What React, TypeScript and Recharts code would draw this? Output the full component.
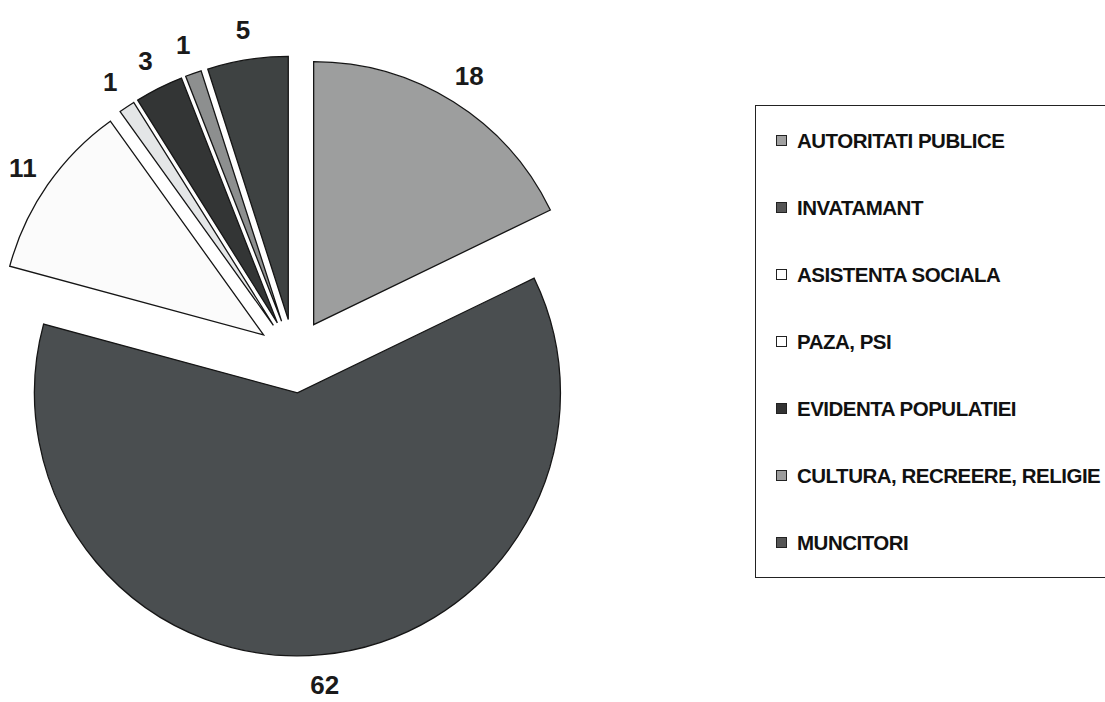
import React from 'react';
import { PieChart, Pie, Cell, Legend, Sector } from 'recharts';

const categories = [
  'AUTORITATI PUBLICE',
  'INVATAMANT',
  'ASISTENTA SOCIALA',
  'PAZA, PSI',
  'EVIDENTA POPULATIEI',
  'CULTURA, RECREERE, RELIGIE',
  'MUNCITORI',
];
const values = [18, 62, 11, 1, 3, 1, 5];
const sliceColors = ['#9d9e9e', '#4a4e50', '#fbfbfb', '#e4e6e7', '#333535', '#8d8f8f', '#3e4242'];
const legendColors = ['#a0a0a0', '#555555', '#ffffff', '#ffffff', '#333333', '#9c9c9c', '#555555'];

const data = categories.map((name, i) => ({ name, value: values[i] }));

const RAD = Math.PI / 180;
const EXPLODE = 37;
const LABEL_GAP = 30;
const FONT = '"Liberation Sans", Arial, sans-serif';

// slices are drawn here, pushed out along their mid angle, together with the value
const ExplodedSlice = (props: any) => {
  const { cx, cy, outerRadius, startAngle, endAngle, index, value } = props;
  const mid = props.midAngle ?? (startAngle + endAngle) / 2;
  const ux = Math.cos(-mid * RAD);
  const uy = Math.sin(-mid * RAD);
  const lr = outerRadius + EXPLODE + LABEL_GAP;
  return (
    <g>
      <Sector
        cx={cx + EXPLODE * ux}
        cy={cy + EXPLODE * uy}
        innerRadius={0}
        outerRadius={outerRadius}
        startAngle={startAngle}
        endAngle={endAngle}
        fill={sliceColors[index]}
        stroke="#151515"
        strokeWidth={1.3}
      />
      <text
        x={cx + lr * ux}
        y={cy + lr * uy}
        textAnchor="middle"
        dominantBaseline="central"
        fill="#1a1a1a"
        style={{ fontFamily: FONT, fontWeight: 'bold', fontSize: 26 }}
      >
        {value}
      </text>
    </g>
  );
};

const LegendBox = ({ payload }: any) => {
  const items = [...(payload || [])].sort(
    (a: any, b: any) => categories.indexOf(a.value) - categories.indexOf(b.value)
  );
  return (
    <div
      style={{
        boxSizing: 'border-box',
        width: 370,
        height: 473,
        border: '1.5px solid #222',
        background: '#fff',
        paddingTop: 1,
      }}
    >
      {items.map((p: any) => {
        const i = categories.indexOf(p.value);
        return (
          <div key={p.value} style={{ height: 67, display: 'flex', alignItems: 'center', paddingLeft: 20 }}>
            <span
              style={{
                display: 'inline-block',
                width: 9,
                height: 9,
                border: '1px solid #222',
                background: legendColors[i],
                marginRight: 10,
              }}
            />
            <span
              style={{
                fontFamily: FONT,
                fontWeight: 'bold',
                fontSize: 20.5,
                letterSpacing: -0.5,
                color: '#111',
                whiteSpace: 'nowrap',
              }}
            >
              {p.value}
            </span>
          </div>
        );
      })}
    </div>
  );
};

export default function App() {
  return (
    <div style={{ width: 1105, height: 702, overflow: 'hidden', background: '#fff' }}>
      <style>{'body{margin:0}'}</style>
      <PieChart width={1105} height={702} margin={{ top: 0, right: 0, bottom: 0, left: 0 }}>
        <Pie
          data={data}
          dataKey="value"
          nameKey="name"
          cx={294}
          cy={356}
          outerRadius={263}
          startAngle={90}
          endAngle={-270}
          stroke="none"
          label={ExplodedSlice}
          labelLine={false}
          isAnimationActive={false}
        >
          {data.map((d) => (
            <Cell key={d.name} fill="transparent" />
          ))}
        </Pie>
        <Legend
          layout="vertical"
          align="right"
          verticalAlign="middle"
          itemSorter={null as any}
          content={LegendBox}
          wrapperStyle={{ position: 'absolute', left: 755, top: 105, width: 370, height: 473 }}
        />
      </PieChart>
    </div>
  );
}
